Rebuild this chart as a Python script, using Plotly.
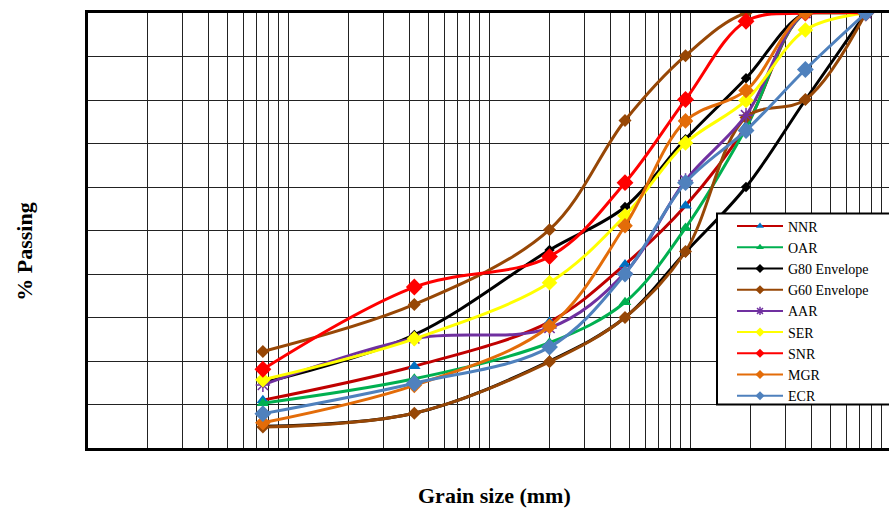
import plotly.graph_objects as go

# Sieve sizes (mm) and cumulative percent passing for each sample
sieve_mm = [0.075, 0.425, 2.0, 4.75, 9.5, 19.0, 37.5, 75.0]

nnr = [11.0, 18.8, 29.0, 42.2, 55.7, 74.0, 100, 100]
oar = [10.3, 15.9, 24.2, 33.5, 50.6, 73.5, 100, 100]
g80_upper = [15.0, 26.0, 45.5, 55.4, 71.0, 85.0, 100, 100]
g80_lower = [5.0, 8.0, 20.0, 30.0, 45.0, 60.0, 80.0, 100]
g60_upper = [22.2, 33.0, 50.2, 75.3, 90.2, 100, 100, 100]
g60_lower = [4.8, 8.0, 19.8, 30.0, 45.2, 76.0, 80.1, 100]
aar = [14.5, 25.2, 27.6, 40.3, 61.5, 76.5, 100, 100]
ser = [15.7, 25.1, 38.0, 53.4, 70.1, 79.9, 96.1, 100]
snr = [18.1, 37.0, 44.0, 61.0, 80.1, 98.1, 100, 100]
mgr = [5.8, 14.4, 28.0, 51.1, 75.2, 82.2, 100, 100]
ecr = [7.9, 14.9, 23.2, 40.0, 61.0, 73.0, 87.0, 100]

SERIF = "Liberation Serif, Times New Roman, serif"
W, H = 889, 508
ML, MR, MT, MB = 88, 0, 13, 60
PW, PH = W - ML - MR, H - MT - MB
DECADE_PX = 201.0
X_MIN_LOG = -2 + 1 / DECADE_PX          # 0.01 mm sits under the left frame line
X_MAX_LOG = X_MIN_LOG + PW / DECADE_PX


def px_x(px):
    return (px - ML) / PW


def px_y(py):
    return (H - MB - py) / PH


fig = go.Figure()


def add_series(name, y, line_color, marker_color, symbol, msize,
               group=None, mline=0, legend_entry=True, legend_msize=7):
    group = group or name
    fig.add_trace(go.Scatter(
        x=sieve_mm, y=y, name=name, mode="lines+markers",
        legendgroup=group, showlegend=False,
        line=dict(color=line_color, width=3, shape="spline", smoothing=1.0),
        marker=dict(color=marker_color, symbol=symbol, size=msize,
                    line=dict(color=marker_color, width=mline)),
    ))
    if legend_entry:
        # key entry with thinner line and small marker
        fig.add_trace(go.Scatter(
            x=[None], y=[None], name=name, mode="lines+markers",
            legendgroup=group, showlegend=True,
            line=dict(color=line_color, width=2),
            marker=dict(color=marker_color, symbol=symbol, size=legend_msize,
                        line=dict(color=marker_color, width=mline)),
        ))


add_series("NNR", nnr, "#C00000", "#0070C0", "triangle-up", 11)
add_series("OAR", oar, "#00B050", "#00B050", "triangle-up", 11)
add_series("G80 Envelope", g80_upper, "#000000", "#000000", "diamond", 8,
           group="g80")
add_series("G80 Envelope", g80_lower, "#000000", "#000000", "diamond", 8,
           group="g80", legend_entry=False)
add_series("G60 Envelope", g60_upper, "#974706", "#974706", "diamond", 10,
           group="g60")
add_series("G60 Envelope", g60_lower, "#974706", "#974706", "diamond", 10,
           group="g60", legend_entry=False)
add_series("AAR", aar, "#7030A0", "#7030A0", "asterisk-open", 12, mline=1.5)
add_series("SER", ser, "#FFFF00", "#FFFF00", "diamond", 12)
add_series("SNR", snr, "#FF0000", "#FF0000", "diamond", 13)
add_series("MGR", mgr, "#E36C09", "#E36C09", "diamond", 12)
add_series("ECR", ecr, "#4F81BD", "#4F81BD", "diamond", 13)

fig.update_layout(
    width=W, height=H,
    margin=dict(l=ML, r=MR, t=MT, b=MB, autoexpand=False),
    paper_bgcolor="white", plot_bgcolor="white",
    font=dict(family=SERIF, color="black"),
    xaxis=dict(
        type="log", range=[X_MIN_LOG, X_MAX_LOG], dtick="D1",
        showticklabels=False, ticks="",
        showgrid=True, gridcolor="#222222", gridwidth=1,
        showline=True, linecolor="black", linewidth=3, mirror=True,
        zeroline=False,
    ),
    yaxis=dict(
        range=[0, 100], dtick=10,
        showticklabels=False, ticks="",
        showgrid=True, gridcolor="#222222", gridwidth=1,
        showline=True, linecolor="black", linewidth=3, mirror=False,
        zeroline=False,
    ),
    legend=dict(
        x=px_x(717), y=px_y(210.5), xanchor="left", yanchor="top",
        bgcolor="rgba(0,0,0,0)", borderwidth=0,
        font=dict(family=SERIF, size=14, color="black"),
        itemwidth=46, indentation=15, tracegroupgap=0,
    ),
    shapes=[dict(
        type="rect", xref="paper", yref="paper", layer="above",
        x0=px_x(717), x1=px_x(900), y0=px_y(404.5), y1=px_y(213.5),
        line=dict(color="black", width=2), fillcolor="white",
    )],
    annotations=[
        dict(text="<b>% Passing</b>", xref="paper", yref="paper",
             x=px_x(25), y=px_y(251.7), textangle=-90, showarrow=False,
             xanchor="center", yanchor="middle",
             font=dict(family=SERIF, size=22, color="black")),
        dict(text="<b>Grain size (mm)</b>", xref="paper", yref="paper",
             x=px_x(494.7), y=px_y(495.5), showarrow=False,
             xanchor="center", yanchor="middle",
             font=dict(family=SERIF, size=22, color="black")),
    ],
)

fig.write_html("out.html")
